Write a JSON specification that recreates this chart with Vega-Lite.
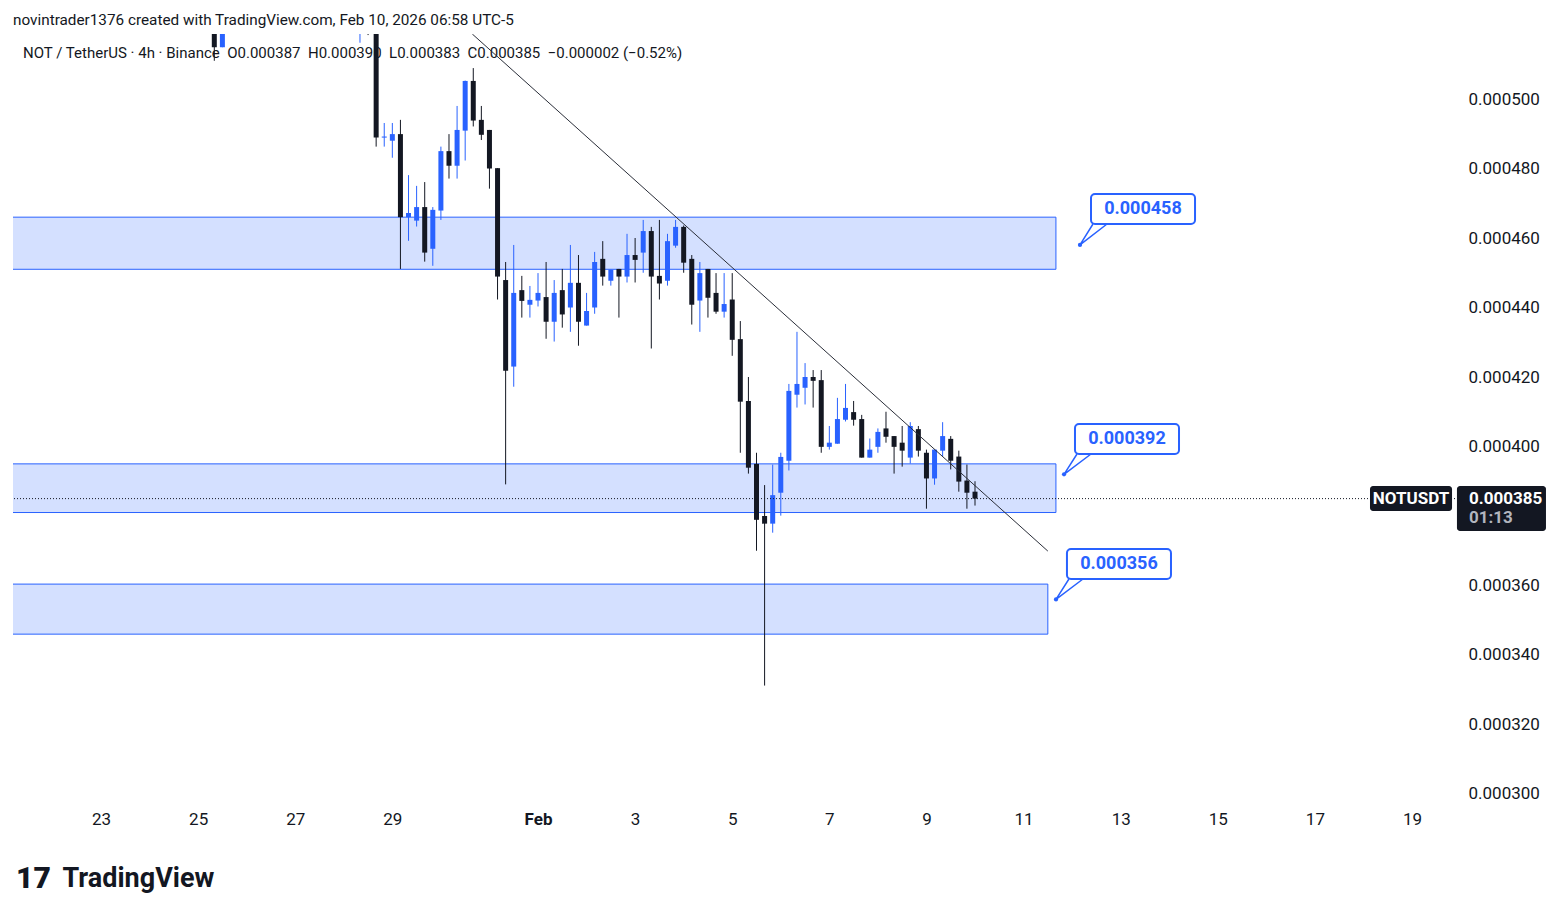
{
  "$schema": "https://vega.github.io/schema/vega-lite/v6.json",
  "width": 1442,
  "height": 771,
  "autosize": {"type": "none"},
  "padding": {"left": 13, "top": 34, "right": 109, "bottom": 110},
  "background": "#ffffff",
  "config": {
    "view": {"stroke": null},
    "font": "Roboto",
    "text": {"font": "Roboto"}
  },
  "title": {
    "text": "novintrader1376 created with TradingView.com, Feb 10, 2026 06:58 UTC-5",
    "anchor": "start",
    "frame": "group",
    "offset": 6,
    "fontSize": 15.3,
    "fontWeight": "normal",
    "color": "#131722"
  },
  "datasets": {
    "candles": [
      {"t": "2026-01-25T08:00:00Z", "o": 0.000526, "h": 0.00053, "l": 0.000511, "c": 0.0005149},
      {"t": "2026-01-25T12:00:00Z", "o": 0.0005149, "h": 0.000527, "l": 0.0005149, "c": 0.000524},
      {"t": "2026-01-28T08:00:00Z", "o": 0.00052, "h": 0.00053, "l": 0.0005162, "c": 0.000528},
      {"t": "2026-01-28T12:00:00Z", "o": 0.000529, "h": 0.000531, "l": 0.0005184, "c": 0.000524},
      {"t": "2026-01-28T16:00:00Z", "o": 0.00053, "h": 0.000535, "l": 0.0004863, "c": 0.0004889},
      {"t": "2026-01-28T20:00:00Z", "o": 0.0004889, "h": 0.0004931, "l": 0.0004863, "c": 0.0004892},
      {"t": "2026-01-29T00:00:00Z", "o": 0.000488, "h": 0.0004931, "l": 0.0004831, "c": 0.0004899},
      {"t": "2026-01-29T04:00:00Z", "o": 0.0004899, "h": 0.000494, "l": 0.0004511, "c": 0.000466},
      {"t": "2026-01-29T08:00:00Z", "o": 0.000466, "h": 0.0004781, "l": 0.0004592, "c": 0.0004672},
      {"t": "2026-01-29T12:00:00Z", "o": 0.000465, "h": 0.000475, "l": 0.0004633, "c": 0.0004689},
      {"t": "2026-01-29T16:00:00Z", "o": 0.0004689, "h": 0.0004761, "l": 0.0004532, "c": 0.0004558},
      {"t": "2026-01-29T20:00:00Z", "o": 0.0004569, "h": 0.0004689, "l": 0.000452, "c": 0.0004681},
      {"t": "2026-01-30T00:00:00Z", "o": 0.0004679, "h": 0.0004863, "l": 0.0004652, "c": 0.000485},
      {"t": "2026-01-30T04:00:00Z", "o": 0.000485, "h": 0.0004899, "l": 0.0004771, "c": 0.0004808},
      {"t": "2026-01-30T08:00:00Z", "o": 0.0004808, "h": 0.000498, "l": 0.0004771, "c": 0.0004911},
      {"t": "2026-01-30T12:00:00Z", "o": 0.0004909, "h": 0.0005053, "l": 0.0004823, "c": 0.0005052},
      {"t": "2026-01-30T16:00:00Z", "o": 0.0005052, "h": 0.0005089, "l": 0.0004921, "c": 0.0004938},
      {"t": "2026-01-30T20:00:00Z", "o": 0.000494, "h": 0.000498, "l": 0.0004882, "c": 0.0004897},
      {"t": "2026-01-31T00:00:00Z", "o": 0.0004911, "h": 0.0004911, "l": 0.0004742, "c": 0.00048},
      {"t": "2026-01-31T04:00:00Z", "o": 0.0004801, "h": 0.0004801, "l": 0.0004423, "c": 0.0004489},
      {"t": "2026-01-31T08:00:00Z", "o": 0.0004479, "h": 0.0004531, "l": 0.0003891, "c": 0.0004218},
      {"t": "2026-01-31T12:00:00Z", "o": 0.000423, "h": 0.000458, "l": 0.0004172, "c": 0.0004442},
      {"t": "2026-01-31T16:00:00Z", "o": 0.000445, "h": 0.0004491, "l": 0.0004371, "c": 0.0004419},
      {"t": "2026-01-31T20:00:00Z", "o": 0.0004408, "h": 0.0004462, "l": 0.0004371, "c": 0.0004422},
      {"t": "2026-02-01T00:00:00Z", "o": 0.000442, "h": 0.0004499, "l": 0.0004403, "c": 0.0004442},
      {"t": "2026-02-01T04:00:00Z", "o": 0.000443, "h": 0.0004531, "l": 0.000431, "c": 0.0004359},
      {"t": "2026-02-01T08:00:00Z", "o": 0.0004359, "h": 0.0004479, "l": 0.0004302, "c": 0.0004442},
      {"t": "2026-02-01T12:00:00Z", "o": 0.000445, "h": 0.0004511, "l": 0.0004342, "c": 0.000438},
      {"t": "2026-02-01T16:00:00Z", "o": 0.00044, "h": 0.000458, "l": 0.000433, "c": 0.0004471},
      {"t": "2026-02-01T20:00:00Z", "o": 0.0004471, "h": 0.0004551, "l": 0.000429, "c": 0.0004359},
      {"t": "2026-02-02T00:00:00Z", "o": 0.0004348, "h": 0.0004442, "l": 0.0004348, "c": 0.000439},
      {"t": "2026-02-02T04:00:00Z", "o": 0.00044, "h": 0.000456, "l": 0.0004382, "c": 0.0004531},
      {"t": "2026-02-02T08:00:00Z", "o": 0.000454, "h": 0.0004591, "l": 0.0004463, "c": 0.0004489},
      {"t": "2026-02-02T12:00:00Z", "o": 0.0004477, "h": 0.0004509, "l": 0.0004463, "c": 0.0004509},
      {"t": "2026-02-02T16:00:00Z", "o": 0.0004511, "h": 0.0004511, "l": 0.0004371, "c": 0.0004489},
      {"t": "2026-02-02T20:00:00Z", "o": 0.0004489, "h": 0.0004612, "l": 0.0004472, "c": 0.0004551},
      {"t": "2026-02-03T00:00:00Z", "o": 0.0004551, "h": 0.00046, "l": 0.0004472, "c": 0.0004537},
      {"t": "2026-02-03T04:00:00Z", "o": 0.0004558, "h": 0.0004652, "l": 0.00045, "c": 0.000462},
      {"t": "2026-02-03T08:00:00Z", "o": 0.000462, "h": 0.0004632, "l": 0.0004282, "c": 0.0004489},
      {"t": "2026-02-03T12:00:00Z", "o": 0.0004491, "h": 0.0004652, "l": 0.0004423, "c": 0.0004469},
      {"t": "2026-02-03T16:00:00Z", "o": 0.0004477, "h": 0.0004612, "l": 0.0004463, "c": 0.0004591},
      {"t": "2026-02-03T20:00:00Z", "o": 0.0004578, "h": 0.0004652, "l": 0.0004572, "c": 0.0004632},
      {"t": "2026-02-04T00:00:00Z", "o": 0.0004632, "h": 0.0004636, "l": 0.00045, "c": 0.0004529},
      {"t": "2026-02-04T04:00:00Z", "o": 0.000454, "h": 0.0004551, "l": 0.0004351, "c": 0.0004408},
      {"t": "2026-02-04T08:00:00Z", "o": 0.000442, "h": 0.0004531, "l": 0.000433, "c": 0.0004499},
      {"t": "2026-02-04T12:00:00Z", "o": 0.0004511, "h": 0.0004511, "l": 0.0004371, "c": 0.0004428},
      {"t": "2026-02-04T16:00:00Z", "o": 0.0004442, "h": 0.0004499, "l": 0.0004382, "c": 0.0004388},
      {"t": "2026-02-04T20:00:00Z", "o": 0.0004388, "h": 0.0004499, "l": 0.0004371, "c": 0.000441},
      {"t": "2026-02-05T00:00:00Z", "o": 0.0004423, "h": 0.0004499, "l": 0.0004261, "c": 0.0004307},
      {"t": "2026-02-05T04:00:00Z", "o": 0.0004309, "h": 0.0004361, "l": 0.0003982, "c": 0.0004129},
      {"t": "2026-02-05T08:00:00Z", "o": 0.0004131, "h": 0.00042, "l": 0.0003922, "c": 0.0003939},
      {"t": "2026-02-05T12:00:00Z", "o": 0.000395, "h": 0.0003982, "l": 0.00037, "c": 0.0003789},
      {"t": "2026-02-05T16:00:00Z", "o": 0.00038, "h": 0.0003889, "l": 0.0003312, "c": 0.0003778},
      {"t": "2026-02-05T20:00:00Z", "o": 0.0003778, "h": 0.0003948, "l": 0.0003752, "c": 0.000386},
      {"t": "2026-02-06T00:00:00Z", "o": 0.0003867, "h": 0.0003982, "l": 0.0003801, "c": 0.000397},
      {"t": "2026-02-06T04:00:00Z", "o": 0.0003959, "h": 0.000418, "l": 0.0003931, "c": 0.000416},
      {"t": "2026-02-06T08:00:00Z", "o": 0.0004149, "h": 0.000433, "l": 0.0004112, "c": 0.000418},
      {"t": "2026-02-06T12:00:00Z", "o": 0.0004169, "h": 0.000424, "l": 0.0004121, "c": 0.00042},
      {"t": "2026-02-06T16:00:00Z", "o": 0.00042, "h": 0.000422, "l": 0.0004112, "c": 0.0004189},
      {"t": "2026-02-06T20:00:00Z", "o": 0.0004191, "h": 0.000422, "l": 0.0003982, "c": 0.0003999},
      {"t": "2026-02-07T00:00:00Z", "o": 0.0003999, "h": 0.0004059, "l": 0.0003991, "c": 0.0004011},
      {"t": "2026-02-07T04:00:00Z", "o": 0.0004008, "h": 0.000414, "l": 0.0004008, "c": 0.0004079},
      {"t": "2026-02-07T08:00:00Z", "o": 0.0004077, "h": 0.000418, "l": 0.0004072, "c": 0.0004111},
      {"t": "2026-02-07T12:00:00Z", "o": 0.0004099, "h": 0.0004131, "l": 0.000406, "c": 0.0004077},
      {"t": "2026-02-07T16:00:00Z", "o": 0.0004079, "h": 0.0004091, "l": 0.0003968, "c": 0.0003968},
      {"t": "2026-02-07T20:00:00Z", "o": 0.0003968, "h": 0.0004023, "l": 0.0003968, "c": 0.0003991},
      {"t": "2026-02-08T00:00:00Z", "o": 0.0003999, "h": 0.0004052, "l": 0.0003982, "c": 0.0004042},
      {"t": "2026-02-08T04:00:00Z", "o": 0.0004052, "h": 0.00041, "l": 0.0004011, "c": 0.0004028},
      {"t": "2026-02-08T08:00:00Z", "o": 0.000403, "h": 0.000403, "l": 0.0003922, "c": 0.0003999},
      {"t": "2026-02-08T12:00:00Z", "o": 0.0004011, "h": 0.0004059, "l": 0.0003942, "c": 0.0003988},
      {"t": "2026-02-08T16:00:00Z", "o": 0.0003968, "h": 0.000407, "l": 0.0003951, "c": 0.0004059},
      {"t": "2026-02-08T20:00:00Z", "o": 0.000405, "h": 0.0004059, "l": 0.0003971, "c": 0.0003988},
      {"t": "2026-02-09T00:00:00Z", "o": 0.0003982, "h": 0.0003991, "l": 0.0003821, "c": 0.0003908},
      {"t": "2026-02-09T04:00:00Z", "o": 0.0003908, "h": 0.0003991, "l": 0.000389, "c": 0.0003991},
      {"t": "2026-02-09T08:00:00Z", "o": 0.0003988, "h": 0.000407, "l": 0.0003971, "c": 0.000403},
      {"t": "2026-02-09T12:00:00Z", "o": 0.0004022, "h": 0.000403, "l": 0.0003934, "c": 0.0003959},
      {"t": "2026-02-09T16:00:00Z", "o": 0.0003971, "h": 0.0003988, "l": 0.000387, "c": 0.0003899},
      {"t": "2026-02-09T20:00:00Z", "o": 0.0003902, "h": 0.0003948, "l": 0.0003821, "c": 0.0003867},
      {"t": "2026-02-10T00:00:00Z", "o": 0.000387, "h": 0.00039, "l": 0.000383, "c": 0.000385}
    ],
    "zones": [
      {"t": "2026-01-20T00:00:00Z", "t2": "2026-02-11T16:00:00Z", "p": 0.000451, "p2": 0.000466},
      {"t": "2026-01-20T00:00:00Z", "t2": "2026-02-11T16:00:00Z", "p": 0.000381, "p2": 0.000395},
      {"t": "2026-01-20T00:00:00Z", "t2": "2026-02-11T12:00:00Z", "p": 0.000346, "p2": 0.0003604}
    ],
    "trend": [
      {"t": "2026-01-30T15:32:00Z", "p": 0.0005187},
      {"t": "2026-02-11T12:00:00Z", "p": 0.0003699}
    ],
    "lastPrice": [{"p": 0.000385}],
    "legendLine": [
      {"t": "2026-01-21T09:27:00Z", "p": 0.0005132, "label": "NOT / TetherUS · 4h · Binance \u00a0O0.000387 \u00a0H0.000390 \u00a0L0.000383 \u00a0C0.000385 \u00a0−0.000002 (−0.52%)"}
    ],
    "callouts": [
      {"label": "0.000458", "t": "2026-02-12T09:20:00Z", "t2": "2026-02-14T12:45:00Z", "p": 0.00047266, "p2": 0.00046403, "tm": "2026-02-13T11:02:00Z", "pm": 0.00046835},
      {"label": "0.000392", "t": "2026-02-12T01:25:00Z", "t2": "2026-02-14T04:50:00Z", "p": 0.00040647, "p2": 0.00039784, "tm": "2026-02-13T03:07:00Z", "pm": 0.00040216},
      {"label": "0.000356", "t": "2026-02-11T21:27:00Z", "t2": "2026-02-14T00:52:00Z", "p": 0.0003705, "p2": 0.00036187, "tm": "2026-02-12T23:10:00Z", "pm": 0.00036619}
    ],
    "anchors": [
      {"t": "2026-02-12T03:53:00Z", "p": 0.000458},
      {"t": "2026-02-11T20:00:00Z", "p": 0.000392},
      {"t": "2026-02-11T16:02:00Z", "p": 0.000356}
    ],
    "pointers": [
      {"id": "a", "i": 0, "t": "2026-02-12T10:19:00Z", "p": 0.00046403},
      {"id": "a", "i": 1, "t": "2026-02-12T03:53:00Z", "p": 0.000458},
      {"id": "a", "i": 2, "t": "2026-02-12T17:15:00Z", "p": 0.00046403},
      {"id": "b", "i": 0, "t": "2026-02-12T02:25:00Z", "p": 0.00039784},
      {"id": "b", "i": 1, "t": "2026-02-11T20:00:00Z", "p": 0.000392},
      {"id": "b", "i": 2, "t": "2026-02-12T09:20:00Z", "p": 0.00039784},
      {"id": "c", "i": 0, "t": "2026-02-11T22:26:00Z", "p": 0.00036187},
      {"id": "c", "i": 1, "t": "2026-02-11T16:02:00Z", "p": 0.000356},
      {"id": "c", "i": 2, "t": "2026-02-12T05:22:00Z", "p": 0.00036187}
    ],
    "tags": [
      {"kind": "symbol", "t": "2026-02-18T03:14:00Z", "t2": "2026-02-19T19:47:00Z", "p": 0.00038863, "p2": 0.00038144},
      {"kind": "price", "t": "2026-02-19T22:13:00Z", "t2": "2026-02-21T18:13:00Z", "p": 0.00038863, "p2": 0.00037568}
    ],
    "symbolText": [
      {"label": "NOTUSDT", "t": "2026-02-18T23:30:00Z", "p": 0.000385}
    ],
    "priceText": [
      {"label": "0.000385", "t": "2026-02-20T04:10:00Z", "p": 0.000385, "tone": "main"},
      {"label": "01:13", "t": "2026-02-20T04:10:00Z", "p": 0.00037942, "tone": "sub"}
    ]
  },
  "layer": [
    {
      "data": {"name": "zones"},
      "mark": {"type": "rect", "clip": true, "fill": "#2962ff", "fillOpacity": 0.2, "stroke": "#2962ff", "strokeWidth": 1},
      "encoding": {
        "x": {
          "field": "t", "type": "temporal",
          "scale": {"type": "utc", "padding": 0, "domain": [{"year": 2026, "month": 1, "date": 21, "hours": 4, "minutes": 30, "utc": true}, {"year": 2026, "month": 2, "date": 19, "hours": 21, "minutes": 15, "utc": true}]},
          "axis": {
            "title": "TradingView",
            "titleX": 49, "titleY": 73, "titleAlign": "left", "titleBaseline": "middle", "titleAnchor": null,
            "titleFontSize": 27, "titleFontWeight": "bold", "titleColor": "#131722", "titleFont": "Roboto",
            "domain": false, "ticks": false, "grid": false,
            "values": [
              {"year": 2026, "month": 1, "date": 23, "utc": true},
              {"year": 2026, "month": 1, "date": 25, "utc": true},
              {"year": 2026, "month": 1, "date": 27, "utc": true},
              {"year": 2026, "month": 1, "date": 29, "utc": true},
              {"year": 2026, "month": 2, "date": 1, "utc": true},
              {"year": 2026, "month": 2, "date": 3, "utc": true},
              {"year": 2026, "month": 2, "date": 5, "utc": true},
              {"year": 2026, "month": 2, "date": 7, "utc": true},
              {"year": 2026, "month": 2, "date": 9, "utc": true},
              {"year": 2026, "month": 2, "date": 11, "utc": true},
              {"year": 2026, "month": 2, "date": 13, "utc": true},
              {"year": 2026, "month": 2, "date": 15, "utc": true},
              {"year": 2026, "month": 2, "date": 17, "utc": true},
              {"year": 2026, "month": 2, "date": 19, "utc": true}
            ],
            "labelExpr": "utcdate(datum.value) == 1 ? utcFormat(datum.value, '%b') : utcFormat(datum.value, '%-d')",
            "labelFontWeight": {"condition": {"test": "utcdate(datum.value) == 1", "value": "bold"}, "value": "normal"},
            "labelFontSize": 17, "labelColor": "#131722", "labelPadding": 6, "labelFont": "Roboto"
          }
        },
        "x2": {"field": "t2"},
        "y": {
          "field": "p", "type": "quantitative",
          "scale": {"domain": [0.00029683, 0.00051871], "zero": false, "nice": false, "padding": 0},
          "axis": {
            "orient": "right",
            "title": "17",
            "titleX": -1422, "titleY": 844, "titleAngle": 0, "titleAlign": "center", "titleBaseline": "middle",
            "titleFontSize": 30, "titleFontWeight": 900, "titleColor": "#131722", "titleFont": "Roboto",
            "domain": false, "ticks": false, "grid": false,
            "values": [0.0003, 0.00032, 0.00034, 0.00036, 0.0004, 0.00042, 0.00044, 0.00046, 0.00048, 0.0005],
            "format": ".6f",
            "labelFontSize": 17, "labelColor": "#131722", "labelPadding": 13, "labelFont": "Roboto"
          }
        },
        "y2": {"field": "p2"}
      }
    },
    {
      "data": {"name": "legendLine"},
      "mark": {"type": "text", "align": "left", "baseline": "middle", "fontSize": 15, "color": "#131722", "font": "Roboto"},
      "encoding": {
        "x": {"field": "t", "type": "temporal"},
        "y": {"field": "p", "type": "quantitative"},
        "text": {"field": "label"}
      }
    },
    {
      "data": {"name": "candles"},
      "mark": {"type": "rule", "clip": true, "strokeWidth": 1},
      "encoding": {
        "x": {"field": "t", "type": "temporal"},
        "y": {"field": "l", "type": "quantitative"},
        "y2": {"field": "h"},
        "color": {"condition": {"test": "datum.c >= datum.o", "value": "#2962ff"}, "value": "#131722"}
      }
    },
    {
      "data": {"name": "candles"},
      "mark": {"type": "bar", "clip": true, "size": 5},
      "encoding": {
        "x": {"field": "t", "type": "temporal"},
        "y": {"field": "o", "type": "quantitative"},
        "y2": {"field": "c"},
        "color": {"condition": {"test": "datum.c >= datum.o", "value": "#2962ff"}, "value": "#131722"}
      }
    },
    {
      "data": {"name": "trend"},
      "mark": {"type": "line", "clip": true, "color": "#2a2e39", "strokeWidth": 1},
      "encoding": {
        "x": {"field": "t", "type": "temporal"},
        "y": {"field": "p", "type": "quantitative"}
      }
    },
    {
      "data": {"name": "lastPrice"},
      "mark": {"type": "rule", "color": "#131722", "strokeWidth": 1, "strokeDash": [1, 2]},
      "encoding": {
        "y": {"field": "p", "type": "quantitative"}
      }
    },
    {
      "data": {"name": "pointers"},
      "mark": {"type": "line", "color": "#2962ff", "strokeWidth": 1.5},
      "encoding": {
        "x": {"field": "t", "type": "temporal"},
        "y": {"field": "p", "type": "quantitative"},
        "detail": {"field": "id"},
        "order": {"field": "i"}
      }
    },
    {
      "data": {"name": "anchors"},
      "mark": {"type": "point", "filled": true, "color": "#2962ff", "size": 18, "opacity": 1},
      "encoding": {
        "x": {"field": "t", "type": "temporal"},
        "y": {"field": "p", "type": "quantitative"}
      }
    },
    {
      "data": {"name": "callouts"},
      "mark": {"type": "rect", "fill": "#ffffff", "stroke": "#2962ff", "strokeWidth": 2, "cornerRadius": 4},
      "encoding": {
        "x": {"field": "t", "type": "temporal"},
        "x2": {"field": "t2"},
        "y": {"field": "p", "type": "quantitative"},
        "y2": {"field": "p2"}
      }
    },
    {
      "data": {"name": "callouts"},
      "mark": {"type": "text", "align": "center", "baseline": "middle", "fontSize": 18, "fontWeight": "bold", "color": "#2962ff", "font": "Roboto"},
      "encoding": {
        "x": {"field": "tm", "type": "temporal"},
        "y": {"field": "pm", "type": "quantitative"},
        "text": {"field": "label"}
      }
    },
    {
      "data": {"name": "tags"},
      "mark": {"type": "rect", "fill": "#131722", "cornerRadius": 3},
      "encoding": {
        "x": {"field": "t", "type": "temporal"},
        "x2": {"field": "t2"},
        "y": {"field": "p", "type": "quantitative"},
        "y2": {"field": "p2"}
      }
    },
    {
      "data": {"name": "symbolText"},
      "mark": {"type": "text", "align": "center", "baseline": "middle", "fontSize": 17, "fontWeight": "bold", "color": "#ffffff", "font": "Roboto"},
      "encoding": {
        "x": {"field": "t", "type": "temporal"},
        "y": {"field": "p", "type": "quantitative"},
        "text": {"field": "label"}
      }
    },
    {
      "data": {"name": "priceText"},
      "mark": {"type": "text", "align": "left", "baseline": "middle", "fontSize": 17, "fontWeight": "bold", "font": "Roboto"},
      "encoding": {
        "x": {"field": "t", "type": "temporal"},
        "y": {"field": "p", "type": "quantitative"},
        "text": {"field": "label"},
        "color": {"condition": {"test": "datum.tone == 'sub'", "value": "#b2b5be"}, "value": "#ffffff"}
      }
    }
  ]
}
